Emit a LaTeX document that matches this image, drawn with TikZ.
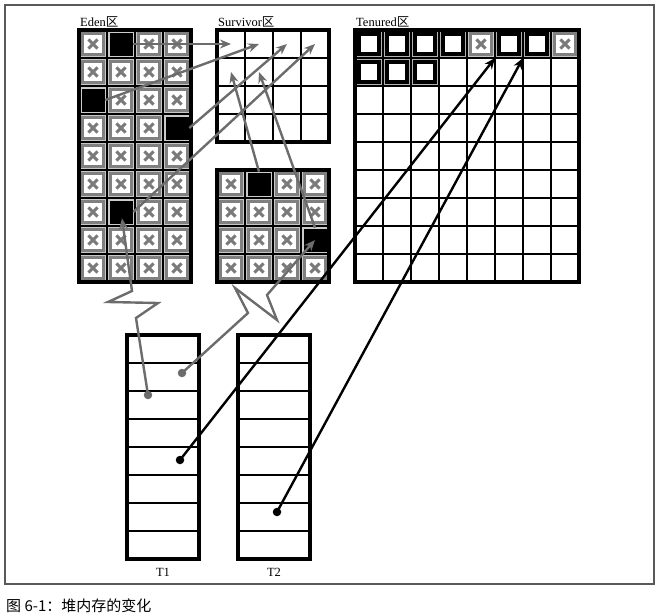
\documentclass[tikz,border=0pt]{standalone}
\usepackage{fontspec}
\setmainfont{Liberation Serif}
\newfontfamily\cjk{Noto Sans CJK SC}
\usetikzlibrary{arrows.meta,positioning,calc}
\begin{document}
\begin{tikzpicture}[x=1pt,y=-1pt,
    cell/.style={draw,line width=1.3pt,minimum size=28pt,inner sep=0pt,outer sep=0pt},
    slot/.style={draw,line width=1.6pt,minimum width=72pt,minimum height=28pt,inner sep=0pt,outer sep=0pt},
    dead/.style={draw=black!50,fill=white,line width=3.4pt,minimum size=21pt,inner sep=0pt,
      preaction={draw=black!22,line width=4.6pt},
      path picture={\draw[black!52,line width=2.9pt]
        ([shift={(-4.6pt,-4.6pt)}]path picture bounding box.center) -- ([shift={(4.6pt,4.6pt)}]path picture bounding box.center)
        ([shift={(-4.6pt,4.6pt)}]path picture bounding box.center) -- ([shift={(4.6pt,-4.6pt)}]path picture bounding box.center);}},
    live/.style={fill=black,draw=gray!40,line width=0.6pt,minimum size=24pt,inner sep=0pt},
    old/.style={draw=black,fill=white,line width=3.4pt,minimum size=20pt,inner sep=0pt,
      preaction={draw=gray!60,line width=5.2pt}},
    border/.style={line width=3.5pt},
    ref/.style={line width=2.4pt,-{Stealth[length=11pt,width=9pt]}},
    young/.style={ref,gray!85!black},
    dot/.style={circle,fill,inner sep=0pt,minimum size=8.5pt},
    area/.style={font=\fontsize{12.5}{14}\selectfont,inner sep=0pt}
]
\useasboundingbox (0,0) rectangle (659,616);
\draw[black!65,line width=1.2pt] (5,5) rectangle (654,584);

% Eden
\foreach \r in {0,...,8}
  \foreach \c in {0,...,3}
    \node[cell] (e-\r-\c) at (93+28*\c,44+28*\r) {};
\foreach \r in {0,...,8}
  \foreach \c in {0,...,3}
    \node[dead] at (e-\r-\c) {};
\node[live] (ea) at (e-0-1) {};
\node[live] (eb) at (e-2-0) {};
\node[live] (ec) at (e-3-3) {};
\node[live] (ed) at (e-6-1) {};
\draw[border] (e-0-0.north west) rectangle (e-8-3.south east);
\node[area,above right=3pt and 1pt of e-0-0.north west] (eden) {Eden{\cjk 区}};

% Survivor
\foreach \r in {0,...,3}
  \foreach \c in {0,...,3} {
    \node[cell] (s-\r-\c) at (231+28*\c,44+28*\r) {};
    \node[cell] (b-\r-\c) at (231+28*\c,184+28*\r) {};
  }
\foreach \r in {0,...,3}
  \foreach \c in {0,...,3}
    \node[dead] at (b-\r-\c) {};
\node[live] (ba) at (b-0-1) {};
\node[live] (bb) at (b-2-3) {};
\draw[border] (s-0-0.north west) rectangle (s-3-3.south east);
\draw[border] (b-0-0.north west) rectangle (b-3-3.south east);
\node[area,above right=3pt and 1pt of s-0-0.north west] (survivor) {Survivor{\cjk 区}};

% Tenured
\foreach \r in {0,...,8}
  \foreach \c in {0,...,7}
    \node[cell] (t-\r-\c) at (369+28*\c,44+28*\r) {};
\foreach \c in {0,1,2,3,5,6}
  \node[old] at (t-0-\c) {};
\foreach \c in {4,7}
  \node[dead] at (t-0-\c) {};
\foreach \c in {0,1,2}
  \node[old] at (t-1-\c) {};
\draw[border] (t-0-0.north west) rectangle (t-8-7.south east);
\node[area,above right=3pt and 1pt of t-0-0.north west] (tenured) {Tenured{\cjk 区}};

% threads
\foreach \r in {0,...,7} {
  \node[slot] (T1-\r) at (163,349+28*\r) {};
  \node[slot] (T2-\r) at (274,349+28*\r) {};
}
\draw[border] (T1-0.north west) rectangle (T1-7.south east);
\draw[border] (T2-0.north west) rectangle (T2-7.south east);
\node[area,below=9pt of T1-7] (t1) {T1};
\node[area,below=9pt of T2-7] (t2) {T2};

% references
\node[dot,gray!85!black] (d1) at (148,395) {};
\node[dot,gray!85!black] (d2) at (182,373) {};
\node[dot] (d3) at (180,460) {};
\node[dot] (d4) at (277,512) {};

\draw[young] (ea.east) -- (s-0-0.center);
\draw[young] (eb.east) -- (s-0-1.center);
\draw[young] (ec.east) -- (s-0-2.center);
\draw[young] (ed.east) -- (s-0-3.center);
\draw[young] (ba.north) -- (s-1-0.center);
\draw[young] (bb.north) -- (s-1-1.center);
\draw[young] (d1.center) -- (136,318) -- (158,303) -- (108,302) -- (132,291) -- ($(ed.south)+(1,-6)$);
\draw[young] (d2.center) -- (248,313) -- (235,288) -- (277,320) -- (267,295) -- (bb.center);
\draw[ref] (d3.center) -- (t-0-5.south west);
\draw[ref] (d4.center) -- (t-0-6.south west);

\node[font=\cjk\fontsize{15}{17}\selectfont,anchor=west,inner sep=0pt] (caption) at (6,606) {图 6-1：堆内存的变化};
\end{tikzpicture}
\end{document}
